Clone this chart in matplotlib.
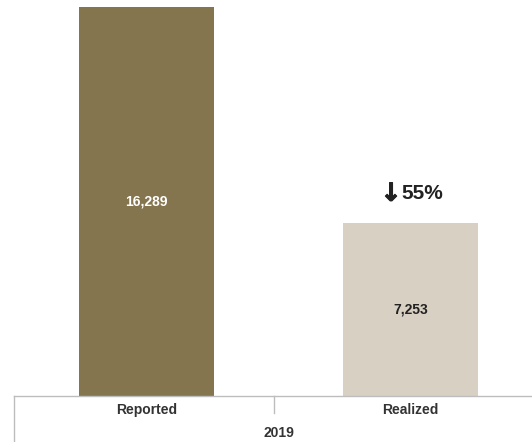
import matplotlib
matplotlib.use("Agg")
import matplotlib.pyplot as plt
import matplotlib.patheffects as pe

plt.rcParams['font.family'] = ['Liberation Sans', 'DejaVu Sans']

categories = ["Reported", "Realized"]
values = [16289, 7253]
value_labels = ["16,289", "7,253"]
bar_colors = ["#85754e", "#d8d0c2"]
label_colors = ["white", "#222222"]
group_label = "2019"
change_arrow = "\u2193"
change_label = "55%"

W, H = 532, 442
fig = plt.figure(figsize=(W / 100, H / 100), dpi=100)
ax = fig.add_axes([14 / W, (H - 396) / H, (W - 14) / W, (396 - 7) / H])

x = [0, 1]
ax.bar(x, values, width=0.512, color=bar_colors)
ax.set_ylim(0, max(values))
ax.set_xlim(-0.502, 1.46)

for xi, v, lab, c in zip(x, values, value_labels, label_colors):
    ax.text(xi, v / 2, lab, ha="center", va="center", color=c,
            fontsize=10, fontweight="bold")

# change annotation above the second bar: heavy arrow + percentage
ax.annotate(change_label, (1, values[1]), xytext=(-9, 29), textcoords="offset pixels",
            ha="left", va="center", fontsize=15, fontweight="bold", color="#222222")
ax.annotate(change_arrow, (1, values[1]), xytext=(-9, 29), textcoords="offset pixels",
            ha="right", va="center", fontsize=18, fontweight="bold", color="#222222",
            family="DejaVu Sans",
            path_effects=[pe.withStroke(linewidth=0.8, foreground="#222222")])

for s in ax.spines.values():
    s.set_visible(False)
ax.set_xticks([])
ax.set_yticks([])

# category axis frame
grey = "#bdbdbd"
fig.add_artist(plt.Line2D([14 / W, 1], [(H - 396) / H] * 2, color=grey, lw=1))
fig.add_artist(plt.Line2D([14 / W] * 2, [0, (H - 396) / H], color=grey, lw=1))
fig.add_artist(plt.Line2D([274 / W] * 2, [(H - 413) / H, (H - 396) / H], color=grey, lw=1))

for xi, cat in zip(x, categories):
    ax.annotate(cat, (xi, 0), xytext=(0, -14), textcoords="offset pixels",
                ha="center", va="center", fontsize=10, fontweight="bold", color="#333333")
fig.text(279 / W, (H - 433) / H, group_label, ha="center", va="center",
         fontsize=10, fontweight="bold", color="#333333")

fig.savefig("out.png", dpi=100)
